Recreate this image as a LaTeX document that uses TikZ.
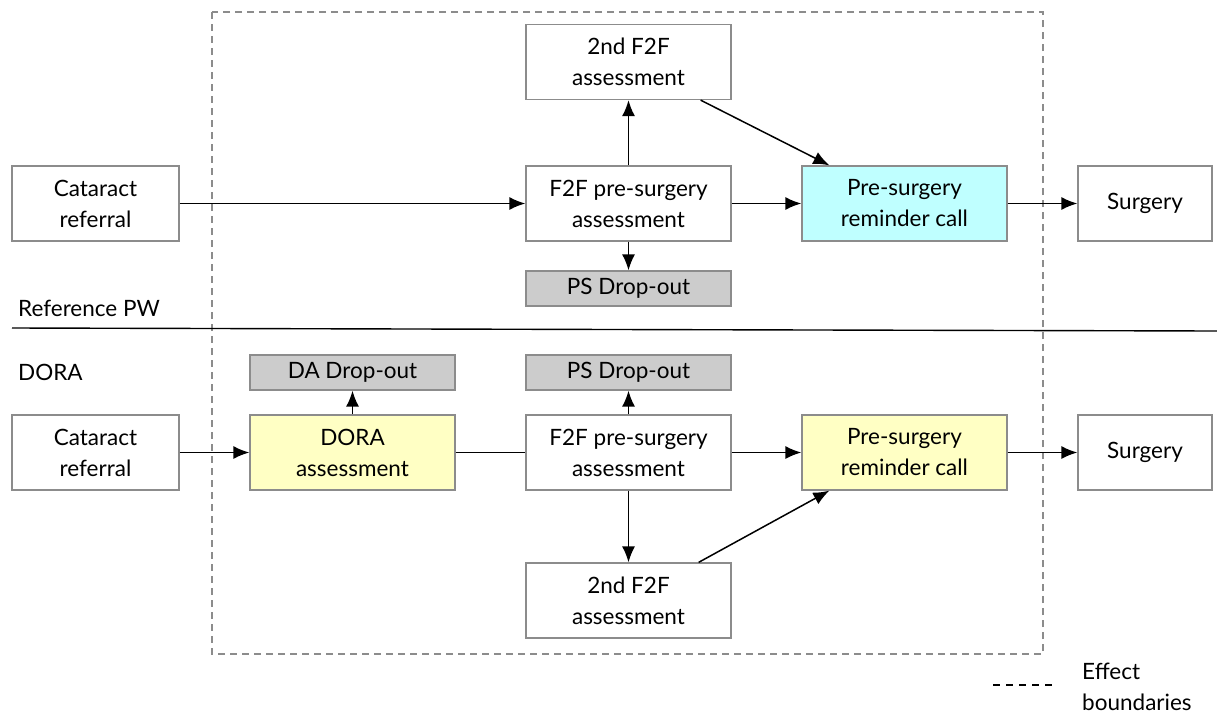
\documentclass[tikz,border=0pt]{standalone}
\usepackage{fontspec}
\setmainfont{Lato}
\usetikzlibrary{arrows.meta}
\definecolor{boxline}{HTML}{8C8C8C}
\definecolor{cyanfill}{HTML}{BFFFFF}
\definecolor{yellowfill}{HTML}{FFFFC4}
\definecolor{dropfill}{HTML}{CCCCCC}
\definecolor{boundary}{HTML}{8C8C8C}
\tikzset{
  base/.style={draw=boxline, line width=1.3pt, inner sep=0pt, align=center,
    font=\fontsize{22.5}{31}\selectfont, text=black},
  stagebox/.style={base, fill=white, minimum width=205pt, minimum height=75pt},
  sidebox/.style={base, fill=white, minimum width=167pt, minimum height=75pt},
  endbox/.style={base, fill=white, minimum width=134pt, minimum height=75pt},
  dropbox/.style={base, fill=dropfill, minimum width=205pt, minimum height=35pt},
  flow/.style={line width=1.5pt, -{Latex[length=16pt,width=13pt]}},
  plain/.style={line width=1.5pt},
  lbl/.style={font=\fontsize{22.5}{31}\selectfont, anchor=west, inner sep=0pt},
}
\begin{document}
\begin{tikzpicture}[x=1pt, y=-1pt]
\useasboundingbox (0,0) rectangle (1217,715);

% effect boundary
\draw[boundary, line width=1.3pt, dash pattern=on 7pt off 5pt] (212,12) rectangle (1043,654);

% separator between pathways
\draw[line width=1.4pt] (12,328) -- (1217,331);
\node[lbl, anchor=base west] (refpw) at (18,316) {Reference PW};
\node[lbl, anchor=base west] (dora) at (18,380) {DORA};

% reference pathway
\node[sidebox] (rref) at (95.5,203.5) {Cataract\\referral};
\node[stagebox] (rf2f) at (628.5,203.5) {F2F pre-surgery\\assessment};
\node[stagebox] (r2nd) at (628.5,62) {2nd F2F\\assessment};
\node[dropbox] (rps) at (628.5,288.5) {PS Drop-out};
\node[stagebox, fill=cyanfill] (rcall) at (904.5,203.5) {Pre-surgery\\reminder call};
\node[endbox] (rsurg) at (1145,203.5) {Surgery};

\draw[flow] (rref) -- (rf2f);
\draw[flow] (rf2f) -- (r2nd);
\draw[flow] (rf2f) -- (rps);
\draw[flow] (rf2f) -- (rcall);
\path (r2nd.south east) ++(-31,0) coordinate (r2out);
\path (rcall.north west) ++(28,0) coordinate (r2in);
\draw[flow] (r2out) -- (r2in);
\draw[flow] (rcall) -- (rsurg);

% DORA pathway
\node[sidebox] (dref) at (95.5,452.5) {Cataract\\referral};
\node[stagebox, fill=yellowfill] (dass) at (352.5,452.5) {DORA\\assessment};
\node[dropbox] (dda) at (352.5,372.5) {DA Drop-out};
\node[stagebox] (df2f) at (628.5,452.5) {F2F pre-surgery\\assessment};
\node[dropbox] (dps) at (628.5,372.5) {PS Drop-out};
\node[stagebox] (d2nd) at (628.5,600.5) {2nd F2F\\assessment};
\node[stagebox, fill=yellowfill] (dcall) at (904.5,452.5) {Pre-surgery\\reminder call};
\node[endbox] (dsurg) at (1145,452.5) {Surgery};

\draw[flow] (dref) -- (dass);
\draw[flow] (dass) -- (dda);
\draw[plain] (dass) -- (df2f);
\draw[flow] (df2f) -- (dps);
\draw[flow] (df2f) -- (d2nd);
\draw[flow] (df2f) -- (dcall);
\path (d2nd.north east) ++(-33,0) coordinate (d2out);
\path (dcall.south west) ++(28,0) coordinate (d2in);
\draw[flow] (d2out) -- (d2in);
\draw[flow] (dcall) -- (dsurg);

% legend
\coordinate (legA) at (993,685);
\coordinate (legB) at (1053,685);
\draw[line width=1.3pt, dash pattern=on 7pt off 6pt] (legA) -- (legB);
\node[lbl, anchor=west, align=left] (legtxt) at (1082,687) {Effect\\boundaries};
\end{tikzpicture}
\end{document}
